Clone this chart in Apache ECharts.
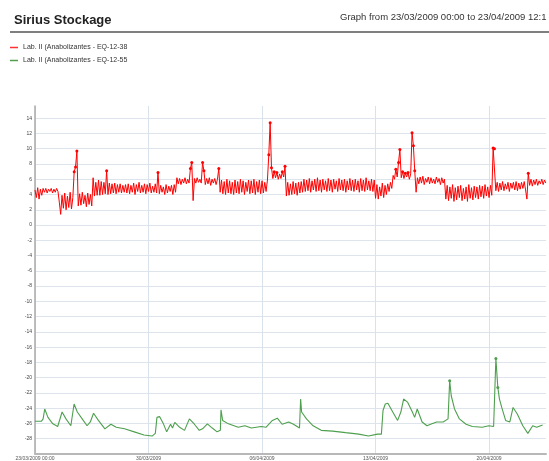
<!DOCTYPE html>
<html><head><meta charset="utf-8">
<script src="https://cdn.jsdelivr.net/npm/echarts@6/dist/echarts.min.js"></script>
<style>html,body{margin:0;padding:0;background:#fff}#c{width:549px;height:461px}</style>
</head><body><div id="c"></div>
<script>
// ---- chart texts ----
const chartTitle = 'Sirius Stockage';
const chartSubtitle = 'Graph from 23/03/2009 00:00 to 23/04/2009 12:1';
const seriesNames = ['Lab. II (Anabolizantes - EQ-12-38', 'Lab. II (Anabolizantes - EQ-12-55'];
// x axis: days since 23/03/2009 00:00, weekly ticks
const xTickLabels = ['23/03/2009 00:00', '30/03/2009', '06/04/2009', '13/04/2009', '20/04/2009'];
const xTickDays = [0, 7, 14, 21, 28];
const xEndDays = 31.51;
const yMin = -30, yMax = 15.6, yStep = 2;

// ---- red series: one reading every 2 hours ----
const redStepDays = 1 / 12;
const redValues = [
  4.6, 3.6, 4.9, 3.4, 4.7, 3.9, 4.8,
  4.3, 4.8, 4.2, 4.7, 4.4, 4.8, 4.2, 4.7, 4.3, 4.8, 4.4,
  3.0, 1.4, 3.9, 2.2, 4.2, 2.0, 3.8, 2.3, 4.3, 2.1, 3.6,
  7.0, 7.6, 9.7,
  2.5, 4.1, 2.6, 4.3, 2.8, 3.9, 2.4, 4.2, 2.7, 4.0,
  2.5, 6.2, 3.8, 5.6, 3.9,
  5.9, 3.9, 5.7, 4.0, 5.6, 4.1, 7.1, 4.0, 5.5, 4.1, 5.4, 4.2, 5.5, 4.1, 5.3, 4.3, 5.4, 4.2, 5.2, 4.3, 5.3, 4.2,
  5.4, 4.1, 5.2, 4.3, 5.5, 4.0, 5.3, 4.4, 5.6, 4.2, 5.2, 4.3, 5.4, 4.1, 5.3, 4.4, 5.5, 4.2, 5.1, 4.3, 5.4, 4.2,
  6.9,
  4.1, 5.2, 4.3, 5.0, 4.0, 5.3, 4.2, 5.1, 4.4, 5.2, 4.0, 5.3, 4.3,
  6.2,
  5.4, 6.1, 5.3, 6.0, 5.5, 6.2, 5.4, 6.0, 5.5,
  7.4, 8.2, 3.2,
  6.1, 5.5, 6.2, 5.6, 6.0, 5.5,
  8.2, 7.1,
  5.3, 6.1, 5.4, 6.2, 5.2, 6.0, 5.5, 6.1, 5.3, 6.0,
  7.4,
  4.3, 5.9, 4.1, 5.7, 4.0, 6.0, 4.2, 5.8, 4.1, 5.6, 4.0, 5.9, 4.2, 5.7, 4.1, 6.0, 4.3, 5.8,
  4.0, 5.6, 4.4, 5.9, 4.1, 5.8, 4.2, 6.0, 4.0, 5.7, 4.3, 5.9, 4.1, 5.8, 4.2, 5.6, 4.4, 5.9,
  9.2, 13.4,
  7.5, 6.1, 7.0, 6.2, 6.9, 6.0, 6.7, 6.1, 7.0, 6.3,
  7.7,
  3.8, 5.6, 3.9, 5.4, 4.0, 5.7, 4.1, 5.5, 3.9, 5.6, 4.2, 5.7, 4.3,
  6.0, 4.4, 5.9, 4.5, 6.1, 4.3, 5.8, 4.6, 6.0, 4.4, 6.2, 4.5, 5.9, 4.3, 6.0, 4.6, 5.8, 4.4,
  6.1, 4.5, 5.9, 4.3, 6.0, 4.7, 5.8, 4.4, 6.1, 4.6, 5.9, 4.5, 6.0, 4.3, 5.8, 4.6, 6.1, 4.5,
  5.9, 4.4, 6.0, 4.6, 5.8, 4.3, 6.1, 4.5, 5.9, 4.4, 6.2, 4.6, 5.8, 4.5, 6.0, 4.4, 5.9,
  3.5, 5.3, 3.4, 5.0, 3.8, 5.5, 3.6, 5.2, 4.0, 5.4,
  4.4, 5.6, 4.8, 6.5, 6.0, 7.3, 6.3, 8.2, 9.9,
  6.2, 7.0, 6.1, 6.8, 6.3, 6.9, 6.0, 6.7,
  12.1, 10.4, 7.1, 4.3,
  6.2, 5.4, 6.3, 5.5, 6.4, 5.3, 6.1, 5.6, 6.3, 5.4, 6.2, 5.5, 6.0, 5.4, 6.3, 5.6, 6.1, 5.3, 6.2, 5.5, 6.0,
  3.4, 5.2, 3.2, 5.0, 3.5, 5.3, 3.1, 4.9, 3.3, 5.1, 3.6, 5.2, 3.2, 4.8, 3.4, 5.0, 3.1, 5.3,
  3.5, 4.9, 3.3, 5.1, 3.6, 5.0, 3.4, 5.2, 3.7, 5.1, 3.5, 5.3, 3.8, 5.0, 3.6, 5.2, 3.9,
  10.1, 10.0,
  4.5, 5.6, 4.4, 5.5, 4.6, 5.7, 4.5, 5.4, 4.7, 5.6, 4.4, 5.5, 4.8, 5.6, 4.6, 5.7, 4.5, 5.5, 4.7, 5.6, 4.8, 5.7, 4.6,
  3.4, 6.8,
  5.2, 6.0, 5.1, 5.9, 5.3, 6.0, 5.2, 5.8, 5.4, 6.0, 5.3, 5.9, 5.5
];

// ---- green series: readings (day, value) ----
const greenDays = [
  0, 0.40, 0.50, 0.60, 0.80, 1.10, 1.40, 1.67, 1.91, 2.21, 2.41, 2.61, 2.91, 3.21, 3.41, 3.61,
  3.91, 4.31, 4.68, 5.01, 5.52, 6.12, 6.72, 7.22, 7.42, 7.52, 7.68, 7.92, 8.12, 8.36, 8.48, 8.62,
  8.92, 9.22, 9.52, 9.83, 10.13, 10.33, 10.63, 10.93, 11.23, 11.43, 11.47, 11.57, 11.93, 12.53,
  12.94, 13.34, 13.94, 14.24, 14.64, 14.94, 15.24, 15.64, 15.94, 16.31, 16.38, 16.44, 16.74,
  17.15, 17.65, 18.35, 19.15, 19.96, 20.56, 21.12, 21.36, 21.46, 21.60, 21.76, 22.06, 22.36,
  22.56, 22.73, 22.97, 23.27, 23.41, 23.57, 23.72, 23.87, 24.17, 24.47, 24.77, 25.17, 25.47,
  25.57, 25.67, 25.87, 26.17, 26.58, 26.97, 27.58, 27.98, 28.28, 28.42, 28.54, 28.64, 28.78,
  29.02, 29.28, 29.48, 29.74, 30.08, 30.39, 30.69, 30.93, 31.30
];
const greenValues = [
  -25.7, -25.7, -25.4, -24.1, -25.2, -26.05, -26.4, -24.5, -25.4, -26.3, -23.45, -24.5, -25.4, -26.3, -25.8, -24.66,
  -25.6, -26.7, -26.1, -26.5, -26.7, -27.1, -27.5, -27.65, -27.3, -25.2, -25.1, -26.05, -27.1, -26.1, -26.6, -25.85,
  -26.5, -26.9, -25.4, -26.1, -26.9, -26.7, -26.05, -26.6, -27.1, -26.9, -24.2, -25.6, -26.05, -26.5,
  -26.3, -26.6, -26.4, -26.5, -25.6, -25.3, -26.1, -25.8, -26.1, -26.6, -22.8, -24.5, -25.4,
  -26.3, -26.9, -27.0, -27.2, -27.4, -27.65, -27.4, -27.4, -24.3, -23.45, -23.35, -24.5, -25.6,
  -24.5, -22.8, -23.2, -24.5, -25.2, -24.1, -24.95, -25.8, -26.3, -26.05, -25.8, -25.8, -25.4,
  -20.4, -22.4, -24.1, -25.4, -26.1, -26.4, -26.5, -26.3, -26.4, -17.5, -21.3, -22.8, -23.9,
  -25.6, -25.8, -23.9, -24.75, -26.3, -27.3, -26.3, -26.5, -26.2
];

const FONT = '"Liberation Sans", Arial, sans-serif';
const RED = '#ff0000', GREEN = '#4e9f4e';
const LEGEND_RED = '#ff3030';
const redData = redValues.map((v, i) => [i * redStepDays, v]);
const greenData = greenDays.map((d, i) => [d, greenValues[i]]);

const legendBase = {
  left: 10, icon: 'rect', itemWidth: 8, itemHeight: 1.5, padding: 0,
  textStyle: { fontSize: 7, color: '#333', fontFamily: FONT }
};

const chart = echarts.init(document.getElementById('c'), null, { renderer: 'canvas' });
chart.setOption({
  animation: false,
  backgroundColor: '#ffffff',
  textStyle: { fontFamily: FONT },
  title: {
    text: chartTitle, left: 14, top: 14, padding: 0,
    textStyle: { fontSize: 13, fontWeight: 'bold', color: '#222', fontFamily: FONT }
  },
  graphic: [
    { type: 'text', left: 340, top: 12, style: { text: chartSubtitle, fontSize: 9.5, fill: '#333', fontFamily: FONT } },
    { type: 'line', shape: { x1: 10, y1: 32, x2: 549, y2: 32 }, style: { stroke: '#555', lineWidth: 1.5 } }
  ],
  legend: [
    Object.assign({ data: [{ name: seriesNames[0], itemStyle: { color: LEGEND_RED, borderWidth: 0, opacity: 1 } }], top: 44 }, legendBase),
    Object.assign({ data: [{ name: seriesNames[1], itemStyle: { color: GREEN, borderWidth: 0, opacity: 1 } }], top: 57 }, legendBase)
  ],
  grid: { left: 35, top: 106, right: -10, bottom: 5, containLabel: false },
  xAxis: {
    type: 'value', min: 0, max: xEndDays, interval: 7,
    axisLine: { show: true, onZero: false, lineStyle: { color: '#b8b8b8', width: 2 } },
    axisTick: { show: false },
    axisLabel: {
      fontSize: 5, color: '#555', margin: 2, fontFamily: FONT,
      formatter: (v) => { const k = xTickDays.indexOf(v); return k >= 0 ? xTickLabels[k] : ''; }
    },
    splitLine: { show: true, showMaxLine: false, lineStyle: { color: '#d9e1ea', width: 1 } }
  },
  yAxis: {
    type: 'value', min: yMin, max: yMax, interval: yStep,
    axisLine: { show: true, lineStyle: { color: '#aaaaaa', width: 1.5 } },
    axisTick: { show: false },
    axisLabel: {
      fontSize: 5, color: '#444', margin: 3, fontFamily: FONT,
      formatter: (v) => (Number.isInteger(v) && v > yMin && v <= 14) ? String(v) : ''
    },
    splitLine: { show: true, showMinLine: false, showMaxLine: false, lineStyle: { color: '#dde4ec', width: 1 } }
  },
  series: [
    {
      name: seriesNames[0], type: 'line', data: redData,
      color: RED,
      lineStyle: { color: RED, width: 1 },
      itemStyle: { color: RED },
      symbol: 'circle', showSymbol: true, showAllSymbol: true,
      symbolSize: (val) => val[1] >= 6.8 ? 3 : 0,
      z: 3
    },
    {
      name: seriesNames[1], type: 'line', data: greenData,
      color: GREEN,
      lineStyle: { color: GREEN, width: 1.1 },
      itemStyle: { color: GREEN },
      symbol: 'circle', showSymbol: true, showAllSymbol: true,
      symbolSize: (val) => val[1] > -21.5 ? 3 : 0,
      z: 2
    }
  ]
});
</script>
</body></html>
